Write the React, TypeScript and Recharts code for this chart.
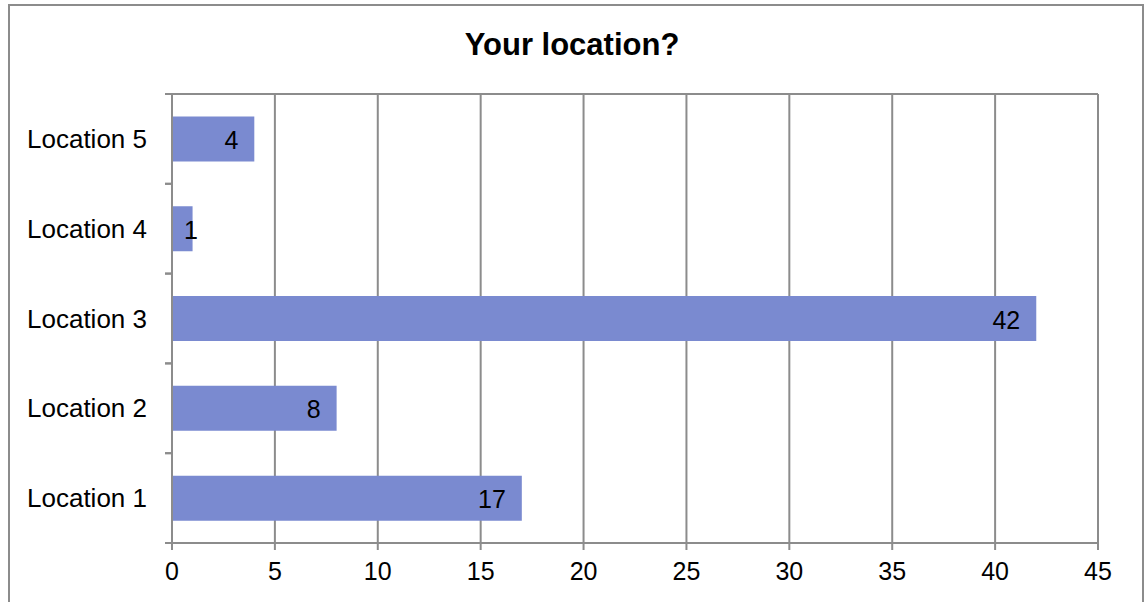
import React from "react";
import {
  BarChart,
  Bar,
  XAxis,
  YAxis,
  CartesianGrid,
  LabelList,
} from "recharts";

const categories = ["Location 1", "Location 2", "Location 3", "Location 4", "Location 5"];
const counts = [17, 8, 42, 1, 4];
const xTicks = [0, 5, 10, 15, 20, 25, 30, 35, 40, 45];

const data = categories.map((name, i) => ({ name, value: counts[i] }));

const GRID = "#8c8c8c";
const BAR = "#7a8ad0";
const FONT = "'Liberation Sans', Arial, sans-serif";
const AXIS_W = 172;

// category label plus the Excel style tick marks sitting between categories
const CategoryTick = (props: any) => {
  const { x, y, payload } = props;
  const half = payload?.offset ?? 0;
  return (
    <g>
      <line x1={AXIS_W - 7} x2={AXIS_W} y1={y - half} y2={y - half} stroke={GRID} strokeWidth={2} />
      <line x1={AXIS_W - 7} x2={AXIS_W} y1={y + half} y2={y + half} stroke={GRID} strokeWidth={2} />
      <text
        x={x}
        y={y}
        textAnchor="end"
        dominantBaseline="central"
        fontFamily={FONT}
        fontSize={26}
        fill="#000"
      >
        {payload.value}
      </text>
    </g>
  );
};

// Excel puts the label just inside the end of the bar, pushes it out when the bar is tiny
const EndLabel = (props: any) => {
  const { x, y, width, height, value } = props;
  const tx = Math.max(x + width - 16, x + 26);
  return (
    <text
      x={tx}
      y={y + height / 2 + 1}
      textAnchor="end"
      dominantBaseline="central"
      fontFamily={FONT}
      fontSize={25}
      fill="#000"
    >
      {value}
    </text>
  );
};

const App: React.FC = () => {
  return (
    <div style={{ position: "absolute", left: 0, top: 0, width: 1144, height: 602, background: "#fff", overflow: "hidden" }}>
      <div
        style={{
          position: "absolute",
          left: 8,
          top: 4,
          width: 1132,
          height: 640,
          border: `2px solid ${GRID}`,
        }}
      />
      <div
        style={{
          position: "absolute",
          left: 0,
          top: 27,
          width: 1144,
          textAlign: "center",
          fontFamily: FONT,
          fontWeight: "bold",
          fontSize: 31,
          lineHeight: "36px",
        }}
      >
        Your location?
      </div>
      <div style={{ position: "absolute", left: 0, top: 0 }}>
        <BarChart
          width={1144}
          height={602}
          data={data}
          layout="vertical"
          margin={{ top: 93, right: 46, bottom: 0, left: 0 }}
          barCategoryGap="25%"
        >
          <CartesianGrid yAxisId="cat" horizontal={false} stroke={GRID} strokeWidth={2} />
          <XAxis
            type="number"
            domain={[0, 45]}
            ticks={xTicks}
            height={59}
            interval={0}
            axisLine={{ stroke: GRID, strokeWidth: 2 }}
            tickLine={{ stroke: GRID, strokeWidth: 2 }}
            tickSize={7}
            tickMargin={12}
            tick={{ fill: "#000", fontSize: 25, fontFamily: FONT }}
          />
          <XAxis
            xAxisId="top"
            orientation="top"
            type="number"
            domain={[0, 45]}
            ticks={xTicks}
            height={1}
            axisLine={{ stroke: GRID, strokeWidth: 2 }}
            tickLine={false}
            tickFormatter={() => ""}
          />
          <YAxis
            yAxisId="cat"
            type="category"
            dataKey="name"
            reversed
            width={AXIS_W}
            interval={0}
            axisLine={{ stroke: GRID, strokeWidth: 2 }}
            tickLine={false}
            tickSize={0}
            tickMargin={25}
            tick={<CategoryTick />}
          />
          <Bar yAxisId="cat" dataKey="value" fill={BAR} isAnimationActive={false}>
            <LabelList dataKey="value" content={<EndLabel />} />
          </Bar>
        </BarChart>
      </div>
    </div>
  );
};

export default App;
